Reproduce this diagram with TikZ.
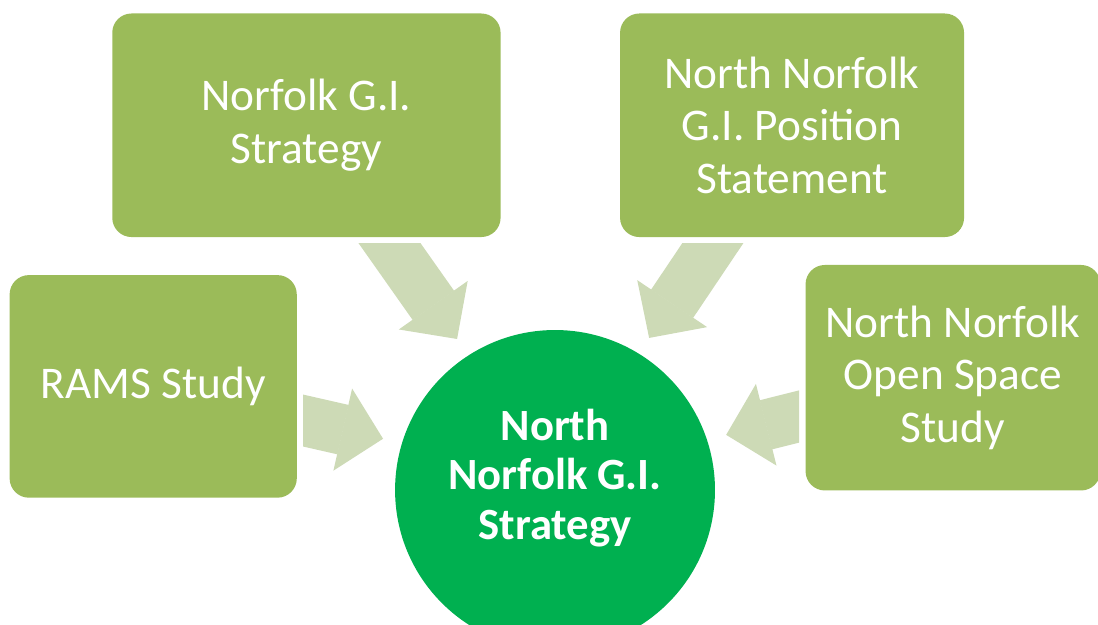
\documentclass[tikz,border=0pt]{standalone}
\usepackage{fontspec}
\setmainfont{Carlito}
\usepackage{tikz}
\usetikzlibrary{arrows.meta,calc}
\definecolor{boxgreen}{RGB}{155,187,89}
\definecolor{hubgreen}{RGB}{0,176,80}
\definecolor{arrowgreen}{RGB}{205,218,182}
\tikzset{
  sourcebox/.style={shape=rectangle,fill=boxgreen,rounded corners=0.2in,text=white,
    align=center,inner sep=0pt,font=\fontsize{34}{39.5}\selectfont},
  hub/.style={shape=circle,fill=hubgreen,minimum size=3.32in,inner sep=0pt},
  hubtext/.style={text=white,align=center,font=\fontsize{33.5}{37}\selectfont\bfseries},
  blockarrow/.style={draw=arrowgreen,line width=38pt,
    -{Triangle[length=31pt,width=63pt,line width=1pt]}}
}

\begin{document}
\begin{tikzpicture}

\useasboundingbox (0in,0in) rectangle (11.395in,-6.476in);

\path (3.18in,-1.30in) node (gis) [sourcebox,minimum width=4.03in,minimum height=2.32in]{Norfolk G.I.\\Strategy};

\path (8.22in,-1.30in) node (position) [sourcebox,minimum width=3.57in,minimum height=2.32in]{North Norfolk\\G.I. Position\\Statement};

\path (1.59in,-4.01in) node (rams) [sourcebox,minimum width=2.98in,minimum height=2.31in]{RAMS Study};

\path (9.89in,-3.92in) node (openspace) [sourcebox,minimum width=3.06in,minimum height=2.34in]{North Norfolk\\Open Space\\Study};

\path (5.76in,-5.085in) node (nngis) [hub]{};
\path (5.76in,-4.96in) node (nngis-label) [hubtext]{North\\Norfolk G.I.\\Strategy};

% block arrows, cut off where they leave the boxes
\begin{scope}
\clip (3.145in,-2.522in) rectangle (8.292in,-6.476in);
\draw[blockarrow] (gis.center) -- ($(gis.center)!0.606!(nngis-label.center)$);
\draw[blockarrow] (position.center) -- ($(position.center)!0.603!(nngis-label.center)$);
\draw[blockarrow] (rams.center) -- ($(rams.center)!0.572!(nngis-label.center)$);
\draw[blockarrow] (openspace.center) -- ($(openspace.center)!0.570!(nngis-label.center)$);
\end{scope}

\end{tikzpicture}
\end{document}
